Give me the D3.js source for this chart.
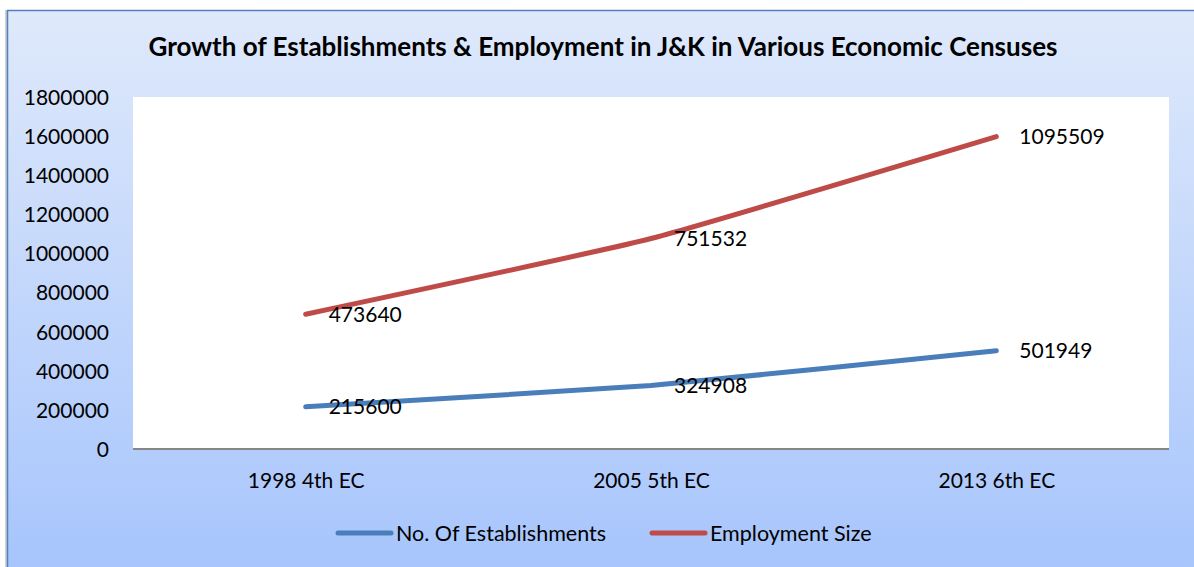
<!DOCTYPE html>
<html>
<head>
<meta charset="utf-8">
<script src="https://cdn.jsdelivr.net/npm/d3@7"></script>
<style>
  html, body { margin: 0; padding: 0; background: #ffffff; }
  svg { display: block; }
  text { font-family: Lato, "Open Sans", sans-serif; fill: #000; }
</style>
</head>
<body>
<svg id="chart" width="1194" height="567"></svg>
<script>
const categories = ["1998 4th EC", "2005 5th EC", "2013 6th EC"];
const establishments = [215600, 324908, 501949];
const employment = [473640, 751532, 1095509];
const seriesNames = ["No. Of Establishments", "Employment Size"];
const seriesColors = ["#4a7ebb", "#be4b48"];
const yTicks = [0, 200000, 400000, 600000, 800000, 1000000, 1200000, 1400000, 1600000, 1800000];
const titleText = "Growth of Establishments & Employment in J&K in Various Economic Censuses";

const W = 1194, H = 567;
const svg = d3.select("#chart");

// background gradient
const defs = svg.append("defs");
const grad = defs.append("linearGradient").attr("id", "bg").attr("x1", 0).attr("y1", 0).attr("x2", 0).attr("y2", 1);
grad.append("stop").attr("offset", "0%").attr("stop-color", "#dfe9fb");
grad.append("stop").attr("offset", "100%").attr("stop-color", "#a7c5fc");

svg.append("rect").attr("x", 5).attr("y", 10).attr("width", 2).attr("height", H - 10).attr("fill", "#cfcfcf");
svg.append("rect").attr("x", 7).attr("y", 10).attr("width", W - 7).attr("height", H - 10).attr("fill", "url(#bg)");
svg.append("line").attr("x1", 7).attr("x2", W).attr("y1", 10.5).attr("y2", 10.5).attr("stroke", "#4f81bd").attr("stroke-width", 1.5);
svg.append("line").attr("x1", 7.5).attr("x2", 7.5).attr("y1", 10).attr("y2", H).attr("stroke", "#4f81bd").attr("stroke-width", 1.5);

const plot = { left: 133, right: 1169, top: 97, bottom: 449 };

svg.append("rect")
  .attr("x", plot.left).attr("y", plot.top)
  .attr("width", plot.right - plot.left).attr("height", plot.bottom - plot.top)
  .attr("fill", "#ffffff");

const x = d3.scalePoint().domain(categories).range([plot.left, plot.right]).padding(0.5);
const y = d3.scaleLinear().domain([0, 1800000]).range([plot.bottom, plot.top]);

// title
svg.append("text")
  .attr("x", 603).attr("y", 56)
  .attr("text-anchor", "middle")
  .attr("font-weight", "bold")
  .attr("font-size", 26)
  .text(titleText);

// y axis
const yAxis = d3.axisLeft(y).tickValues(yTicks).tickSize(0).tickPadding(0).tickFormat(d3.format("d"));
const gy = svg.append("g").attr("transform", `translate(109,0)`).call(yAxis);
gy.select(".domain").remove();
gy.selectAll("text").attr("font-size", 21).attr("font-family", "Lato, sans-serif").attr("fill", "#000").attr("dy", "0.35em");

// x axis
const xAxis = d3.axisBottom(x).tickSize(0).tickPadding(0);
const gx = svg.append("g").attr("transform", `translate(0,${plot.bottom})`).call(xAxis);
gx.select(".domain").remove();
gx.selectAll("text").attr("font-size", 21).attr("font-family", "Lato, sans-serif").attr("fill", "#000").attr("y", 32).attr("dy", "0.35em");
svg.append("line")
  .attr("x1", plot.left).attr("x2", plot.right)
  .attr("y1", plot.bottom).attr("y2", plot.bottom)
  .attr("stroke", "#868686").attr("stroke-width", 2);

// stacked line data
const rows = categories.map((c, i) => ({ cat: c, est: establishments[i], emp: employment[i] }));
const stacked = d3.stack().keys(["est", "emp"])(rows);

const line = d3.line()
  .x(d => x(d.data.cat))
  .y(d => y(d[1]))
  .curve(d3.curveCardinal.tension(0.6));

stacked.forEach((s, si) => {
  svg.append("path")
    .datum(s)
    .attr("d", line)
    .attr("fill", "none")
    .attr("stroke", seriesColors[si])
    .attr("stroke-width", 5)
    .attr("stroke-linecap", "round")
    .attr("stroke-linejoin", "round");
});

// data labels
stacked.forEach((s, si) => {
  svg.append("g").selectAll("text")
    .data(s)
    .join("text")
    .attr("x", d => x(d.data.cat) + 23)
    .attr("y", d => y(d[1]))
    .attr("dy", "0.35em")
    .attr("font-size", 21)
    .text(d => d.data[s.key]);
});

// legend
const legendItems = [
  { name: seriesNames[0], color: seriesColors[0], x: 338 },
  { name: seriesNames[1], color: seriesColors[1], x: 652 }
];
const lg = svg.append("g");
legendItems.forEach(it => {
  lg.append("line")
    .attr("x1", it.x).attr("x2", it.x + 53)
    .attr("y1", 533).attr("y2", 533)
    .attr("stroke", it.color).attr("stroke-width", 5).attr("stroke-linecap", "round");
  lg.append("text")
    .attr("x", it.x + 58).attr("y", 533).attr("dy", "0.35em")
    .attr("font-size", 21.5)
    .text(it.name);
});
</script>
</body>
</html>
